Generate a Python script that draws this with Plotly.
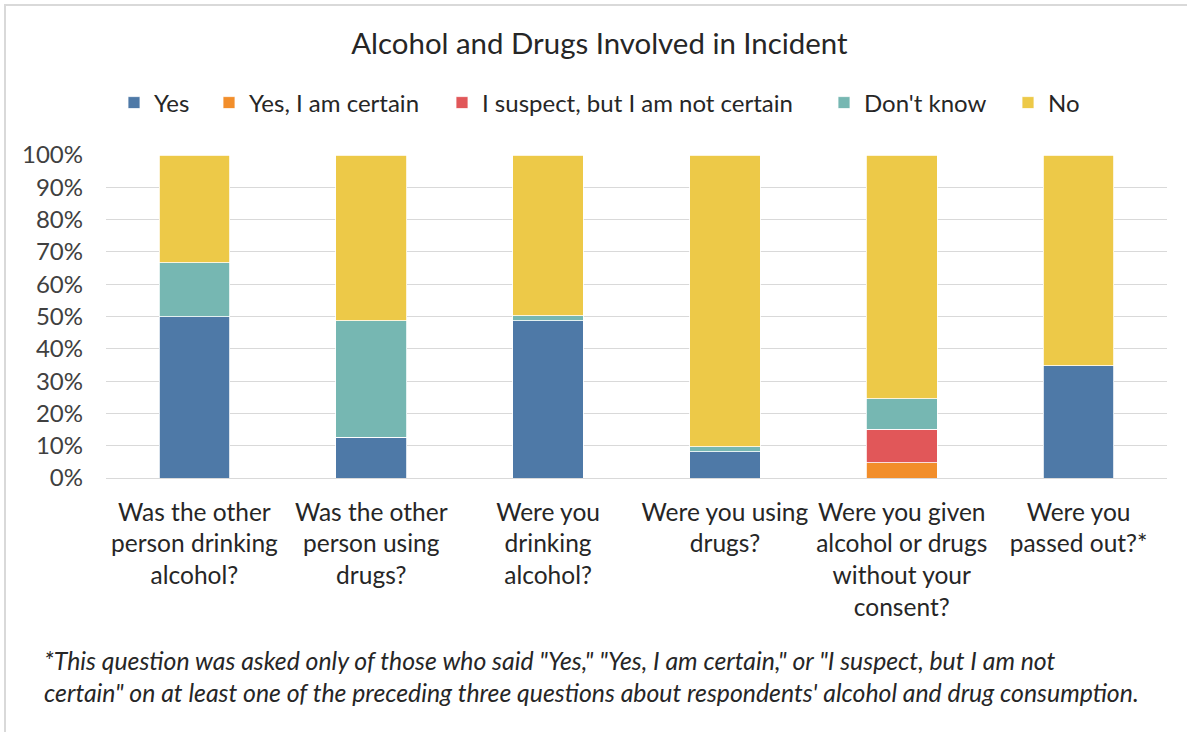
import plotly.graph_objects as go

# Survey questions (x categories), with manual line breaks
questions = [
    "Was the other<br>person drinking<br>alcohol?",
    "Was the other<br>person using<br>drugs?",
    "Were you<br>drinking<br>alcohol?",
    "Were you using<br>drugs?",
    "Were you given<br>alcohol or drugs<br>without your<br>consent?",
    "Were you<br>passed out?*",
]

# Response shares (percent of respondents)
yes = [50.0, 12.6, 48.7, 8.1, 0.0, 34.8]
yes_certain = [0.0, 0.0, 0.0, 0.0, 4.7, 0.0]
suspect = [0.0, 0.0, 0.0, 0.0, 10.4, 0.0]
dont_know = [16.7, 36.1, 1.5, 1.6, 9.4, 0.0]
no = [33.3, 51.3, 49.8, 90.3, 75.5, 65.2]

series_names = ["Yes", "Yes, I am certain", "I suspect, but I am not certain", "Don't know", "No"]
series_values = [yes, yes_certain, suspect, dont_know, no]
series_colors = ["#4e79a7", "#f28e2b", "#e15759", "#76b7b2", "#edc948"]

# Left edge (px) of each legend entry along the top row
legend_left_px = [132, 227, 460, 842, 1026]

FONT = "Lato, Carlito, Calibri, sans-serif"
DARK = "#262626"
W, H = 1187, 732

fig = go.Figure()
legend_layouts = {}
for i, (name, vals, color) in enumerate(zip(series_names, series_values, series_colors)):
    key = "legend" if i == 0 else f"legend{i + 1}"
    fig.add_trace(go.Bar(
        name=name, x=questions, y=vals, legend=key,
        marker=dict(color=color, line=dict(color="white", width=0.8)),
    ))
    legend_layouts[key] = dict(
        orientation="h", xref="container", yref="container",
        x=(legend_left_px[i] - 18) / W, xanchor="left",
        y=1 - 103 / H, yanchor="middle",
        bgcolor="rgba(0,0,0,0)", borderwidth=0,
        font=dict(family=FONT, size=24, color=DARK),
    )

footnote = ("*This question was asked only of those who said \"Yes,\" \"Yes, I am certain,\" "
            "or \"I suspect, but I am not<br>certain\" on at least one of the preceding three "
            "questions about respondents' alcohol and drug consumption.")

fig.update_layout(
    width=W, height=H,
    barmode="stack", bargap=0.6,
    paper_bgcolor="white", plot_bgcolor="white",
    margin=dict(l=106, r=20, t=155, b=254),
    font=dict(family=FONT, size=24, color=DARK),
    title=dict(text="Alcohol and Drugs Involved in Incident",
               x=0.505, xref="container", xanchor="center",
               y=1 - 44 / H, yref="container", yanchor="middle",
               font=dict(family=FONT, size=29.4, color=DARK)),
    showlegend=True,
    xaxis=dict(showgrid=False, showline=False, ticks="", ticklabelstandoff=17,
               tickfont=dict(family=FONT, size=24.5, color=DARK)),
    yaxis=dict(range=[0, 100], dtick=10, ticksuffix="%",
               showgrid=True, gridcolor="#d9d9d9", gridwidth=1,
               zeroline=True, zerolinecolor="#d9d9d9", zerolinewidth=1,
               showline=False, ticks="", ticklabelstandoff=22,
               tickfont=dict(family=FONT, size=24, color="#404040")),
    **legend_layouts,
)

fig.add_annotation(
    text=footnote, xref="paper", yref="paper",
    x=(42 - 106) / 1061, y=(478 - 676) / 323,
    xanchor="left", yanchor="middle", align="left", showarrow=False,
    font=dict(family=FONT, size=24.8, color=DARK, style="italic"),
)

# Light frame around the chart area
fig.add_shape(type="rect", xref="paper", yref="paper",
              x0=(5 - 106) / 1061, x1=(1200 - 106) / 1061,
              y0=(478 - 745) / 323, y1=(478 - 5) / 323,
              line=dict(color="#d9d9d9", width=2), fillcolor="rgba(0,0,0,0)",
              layer="below")

fig.write_html("out.html")
